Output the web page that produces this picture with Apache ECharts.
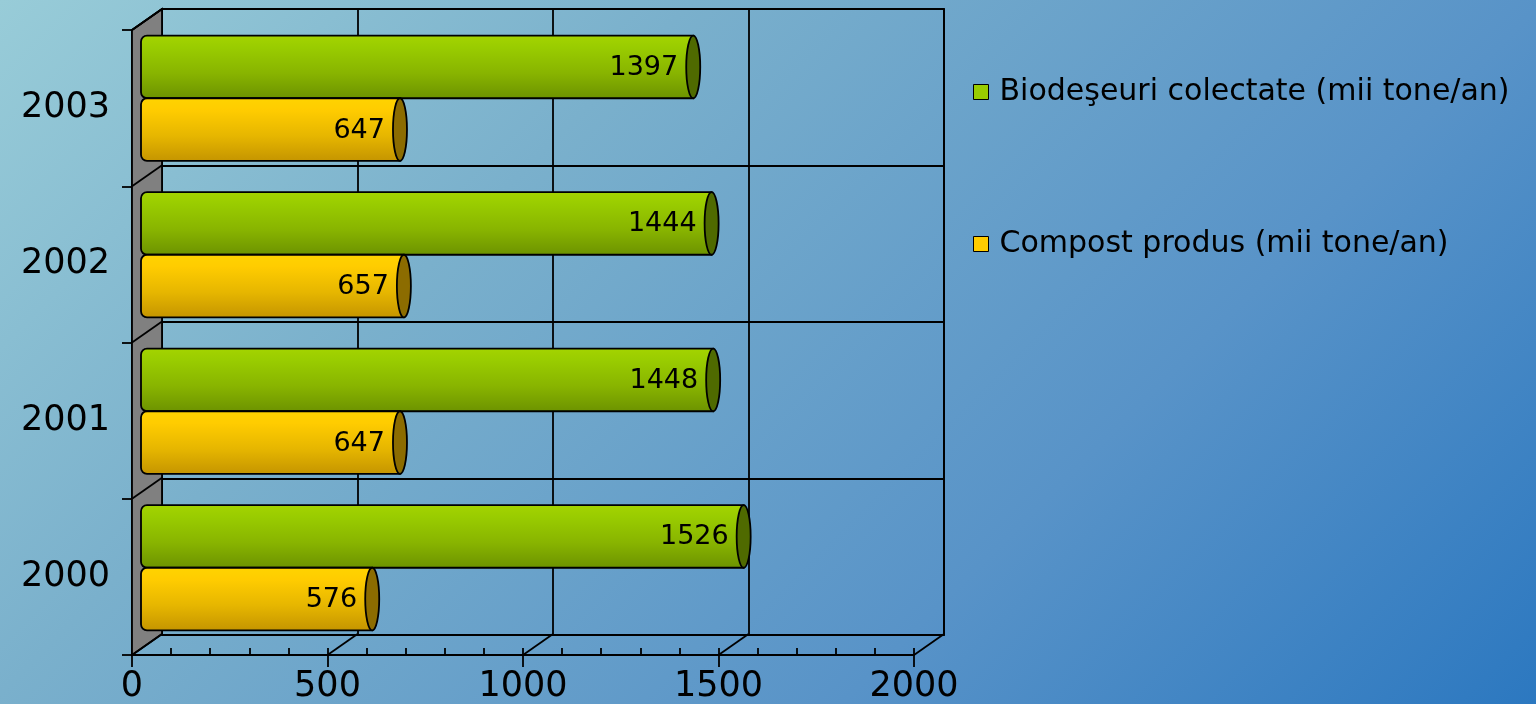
<!DOCTYPE html>
<html lang="ro">
<head>
    <meta charset="UTF-8">
    <title>Biodeseuri si compost</title>
    <script src="https://cdn.jsdelivr.net/npm/echarts@6/dist/echarts.min.js"></script>
    <style>
        html, body { margin: 0; padding: 0; }
        #box { width: 1536px; height: 704px; }
    </style>
</head>
<body>
<div id="box"></div>
<script>
    // date
    var years = ['2000', '2001', '2002', '2003'];
    var bioValues = [1526, 1448, 1444, 1397];
    var compostValues = [576, 647, 657, 647];
    var xTicks = [0, 500, 1000, 1500, 2000];
    var bioName = 'Biodeşeuri colectate (mii tone/an)';
    var compostName = 'Compost produs (mii tone/an)';

    var FONT = 'DejaVu Sans';
    // adancimea 3D (spate fata de fata)
    var DX = 30, DY = -21;

    var myChart = echarts.init(document.getElementById('box'));

    function toPairs(values) {
        return values.map(function (v, i) { return [v, i]; });
    }

    // cilindru orizontal
    function cylinder(colors, capColor, upper) {
        return function (params, api) {
            var start = api.coord([0, api.value(1)]);
            var end = api.coord([api.value(0), api.value(1)]);
            var band = api.size([0, 1])[1];
            var h = band * 0.4;
            var y0 = upper ? end[1] - h : end[1];
            var x0 = start[0] - 6;
            return {
                type: 'group',
                children: [
                    {
                        type: 'rect',
                        shape: { x: x0, y: y0, width: end[0] - x0, height: h, r: [6, 0, 0, 6] },
                        style: {
                            fill: new echarts.graphic.LinearGradient(0, 0, 0, 1, colors),
                            stroke: '#000',
                            lineWidth: 1.8
                        }
                    },
                    {
                        type: 'ellipse',
                        shape: { cx: end[0], cy: y0 + h / 2, rx: 7, ry: h / 2 },
                        style: { fill: capColor, stroke: '#000', lineWidth: 1.8 }
                    },
                    {
                        type: 'text',
                        style: {
                            x: end[0] - 15,
                            y: y0 + h / 2 + 1,
                            text: String(api.value(0)),
                            align: 'right',
                            verticalAlign: 'middle',
                            fill: '#000',
                            font: '27px "' + FONT + '"'
                        }
                    }
                ]
            };
        };
    }

    // podea: diagonale la fiecare diviziune
    function floorItem(params, api) {
        var cs = params.coordSys;
        var x = api.coord([api.value(0), 0])[0];
        var y = cs.y + cs.height;
        return {
            type: 'line',
            shape: { x1: x, y1: y, x2: x + DX, y2: y + DY },
            style: { stroke: '#000', lineWidth: 1.8 }
        };
    }

    // peretele lateral
    function wallItem(params, api) {
        var cs = params.coordSys;
        var c = api.coord([0, api.value(0)]);
        var band = api.size([0, 1])[1];
        var x = cs.x;
        var children = [];
        if (params.dataIndex === 0) {
            children.push({
                type: 'polygon',
                shape: {
                    points: [[x, cs.y], [x + DX, cs.y + DY], [x + DX, cs.y + cs.height + DY], [x, cs.y + cs.height]]
                },
                style: { fill: '#808080', stroke: '#000', lineWidth: 1.8 }
            });
        }
        var yb = c[1] - band / 2;
        children.push({
            type: 'line',
            shape: { x1: x, y1: yb, x2: x + DX, y2: yb + DY },
            style: { stroke: '#000', lineWidth: 1.8 }
        });
        return { type: 'group', children: children };
    }

    function plain(v) { return String(v); }

    var option = {
        backgroundColor: new echarts.graphic.LinearGradient(0, 0, 1120, 1120, [
            { offset: 0, color: '#98ccd8' },
            { offset: 0.31, color: '#7ab0cc' },
            { offset: 0.69, color: '#5893c8' },
            { offset: 1, color: '#2c78c0' }
        ], true),
        textStyle: { fontFamily: FONT },
        legend: {
            orient: 'vertical',
            left: 968,
            top: 72,
            itemWidth: 15,
            itemHeight: 15,
            itemGap: 122,
            icon: 'rect',
            itemStyle: { borderColor: '#000', borderWidth: 1 },
            textStyle: { fontSize: 30, color: '#000', fontFamily: FONT, padding: [0, 0, 0, 6] },
            data: [bioName, compostName]
        },
        grid: [
            // fata
            { left: 132, right: 622, top: 30, bottom: 48 },
            // peretele din spate
            { left: 162, right: 592, top: 9, bottom: 69, show: true, borderColor: '#000', borderWidth: 1.8, backgroundColor: 'transparent' },
            // barele, la jumatatea adancimii
            { left: 147, right: 607, top: 20, bottom: 58 }
        ],
        xAxis: [
            {
                gridIndex: 0, type: 'value', min: 0, max: 2000, interval: 500, position: 'bottom',
                axisLine: { show: true, lineStyle: { color: '#000', width: 1.8 } },
                axisTick: { show: true, length: 12, lineStyle: { color: '#000', width: 1.8 } },
                axisLabel: { fontSize: 35, color: '#000', fontFamily: FONT, margin: 14, formatter: plain },
                splitLine: { show: false }
            },
            {
                gridIndex: 0, type: 'value', min: 0, max: 2000, interval: 100, position: 'bottom',
                axisLine: { show: false },
                axisTick: { show: true, inside: true, length: 7, lineStyle: { color: '#000', width: 1.8 } },
                axisLabel: { show: false },
                splitLine: { show: false }
            },
            {
                gridIndex: 1, type: 'value', min: 0, max: 2000, interval: 500,
                axisLine: { show: false }, axisTick: { show: false }, axisLabel: { show: false },
                splitLine: { show: true, lineStyle: { color: '#000', width: 1.8 } }
            },
            {
                gridIndex: 2, type: 'value', min: 0, max: 2000, show: false
            }
        ],
        yAxis: [
            {
                gridIndex: 0, type: 'category', data: years,
                axisLine: { show: true, lineStyle: { color: '#000', width: 1.8 } },
                axisTick: { show: true, length: 10, lineStyle: { color: '#000', width: 1.8 } },
                axisLabel: { fontSize: 35, color: '#000', fontFamily: FONT, margin: 22 },
                splitLine: { show: false }
            },
            {
                gridIndex: 1, type: 'category', data: years,
                axisLine: { show: false }, axisTick: { show: false }, axisLabel: { show: false },
                splitLine: { show: true, lineStyle: { color: '#000', width: 1.8 } }
            },
            {
                gridIndex: 2, type: 'category', data: years, show: false
            }
        ],
        series: [
            {
                name: 'wall', type: 'custom', xAxisIndex: 0, yAxisIndex: 0, z: 1,
                silent: true, renderItem: wallItem,
                data: years.map(function (y, i) { return [i]; })
            },
            {
                name: 'wallTop', type: 'custom', xAxisIndex: 0, yAxisIndex: 0, z: 1,
                silent: true,
                renderItem: function (params, api) {
                    var cs = params.coordSys;
                    return {
                        type: 'line',
                        shape: { x1: cs.x, y1: cs.y, x2: cs.x + DX, y2: cs.y + DY },
                        style: { stroke: '#000', lineWidth: 1.8 }
                    };
                },
                data: [[0]]
            },
            {
                name: 'floor', type: 'custom', xAxisIndex: 0, yAxisIndex: 0, z: 1,
                silent: true, renderItem: floorItem,
                data: xTicks.map(function (v) { return [v]; })
            },
            {
                name: bioName, type: 'custom', xAxisIndex: 3, yAxisIndex: 2, z: 5,
                itemStyle: { color: '#99cc00', borderColor: '#000' },
                encode: { x: 0, y: 1 },
                renderItem: cylinder([
                    { offset: 0, color: '#a4d400' },
                    { offset: 0.2, color: '#99cc00' },
                    { offset: 0.6, color: '#88b400' },
                    { offset: 1, color: '#6c9200' }
                ], '#4f6a00', true),
                data: toPairs(bioValues)
            },
            {
                name: compostName, type: 'custom', xAxisIndex: 3, yAxisIndex: 2, z: 5,
                itemStyle: { color: '#ffcc00', borderColor: '#000' },
                encode: { x: 0, y: 1 },
                renderItem: cylinder([
                    { offset: 0, color: '#ffd400' },
                    { offset: 0.2, color: '#ffcc00' },
                    { offset: 0.6, color: '#e6b600' },
                    { offset: 1, color: '#c49400' }
                ], '#8c6c00', false),
                data: toPairs(compostValues)
            }
        ]
    };
    myChart.setOption(option);
</script>
</body>
</html>
